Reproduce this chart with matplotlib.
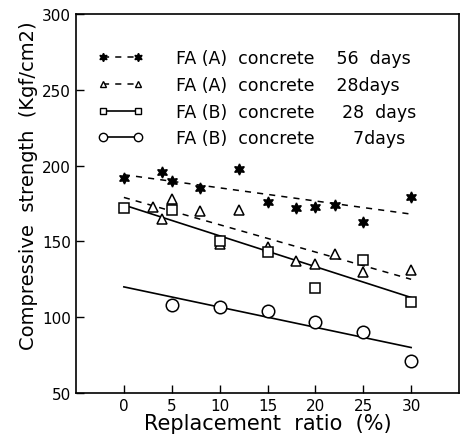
import numpy as np
import matplotlib
matplotlib.use('Agg')
import matplotlib.pyplot as plt
from matplotlib.lines import Line2D

# FA (A) concrete 56 days
x_a56 = [0, 4, 5, 8, 12, 15, 18, 20, 22, 25, 30]
y_a56 = [192, 196, 190, 185, 198, 176, 172, 173, 174, 163, 179]

# FA (A) concrete 28 days
x_a28 = [3, 4, 5, 8, 10, 12, 15, 18, 20, 22, 25, 30]
y_a28 = [173, 165, 178, 170, 148, 171, 146, 137, 135, 142, 130, 131]

# FA (B) concrete 28 days
x_b28 = [0, 5, 10, 15, 20, 25, 30]
y_b28 = [172, 171, 150, 143, 119, 138, 110]

# FA (B) concrete 7 days
x_b7 = [5, 10, 15, 20, 25, 30]
y_b7 = [108, 107, 104, 97, 90, 71]

# regression lines drawn in the figure (value at 0 % and at 30 %)
fit_x = [0, 30]
fit_a56 = [194, 168]
fit_a28 = [179, 125]
fit_b28 = [174, 113]
fit_b7 = [120, 80]

labels = ['FA (A)  concrete    56  days',
          'FA (A)  concrete    28days',
          'FA (B)  concrete     28  days',
          'FA (B)  concrete       7days']

plt.rcParams['font.family'] = 'DejaVu Sans'

fig = plt.figure(figsize=(4.62, 4.39), dpi=100)
ax = fig.add_axes([76/462, 1-394/439, (459-76)/462, (394-15)/439])

dash = (0, (4, 4))
ax.plot(fit_x, fit_a56, color='k', lw=1.1, linestyle=dash)
ax.plot(fit_x, fit_a28, color='k', lw=1.1, linestyle=dash)
ax.plot(fit_x, fit_b28, color='k', lw=1.2)
ax.plot(fit_x, fit_b7, color='k', lw=1.2)

ax.plot(x_a56, y_a56, linestyle='none', marker=(6, 1, 0), ms=8, color='k')
ax.plot(x_a28, y_a28, linestyle='none', marker='^', ms=7, mfc='white', mec='k', mew=1.1)
ax.plot(x_b28, y_b28, linestyle='none', marker='s', ms=7, mfc='white', mec='k', mew=1.1)
ax.plot(x_b7, y_b7, linestyle='none', marker='o', ms=9, mfc='white', mec='k', mew=1.1)

handles = [
    Line2D([], [], color='k', lw=1.1, linestyle=dash, marker=(6, 1, 0), ms=6),
    Line2D([], [], color='k', lw=1.1, linestyle=dash, marker='^', ms=5, mfc='white'),
    Line2D([], [], color='k', lw=1.2, marker='s', ms=5, mfc='white'),
    Line2D([], [], color='k', lw=1.2, marker='o', ms=6, mfc='white'),
]
ax.legend(handles, labels, numpoints=2, frameon=False, loc='upper left',
          bbox_to_anchor=(0.04, 0.925), fontsize=12.5, handlelength=2.6,
          handletextpad=1.9, labelspacing=0.5, borderaxespad=0)

ax.set_xlim(-5, 35)
ax.set_ylim(50, 300)
ax.set_xticks([0, 5, 10, 15, 20, 25, 30])
ax.set_yticks([50, 100, 150, 200, 250, 300])
ax.tick_params(direction='in', length=6, labelsize=11, width=1)
for s in ax.spines.values():
    s.set_linewidth(1.2)

ax.set_xlabel('Replacement  ratio  (%)', fontsize=15, labelpad=0)
ax.set_ylabel('Compressive  strength  (Kgf/cm2)', fontsize=14)
ax.yaxis.set_label_coords(-0.10, 0.55)

fig.savefig('out.png', dpi=100)
